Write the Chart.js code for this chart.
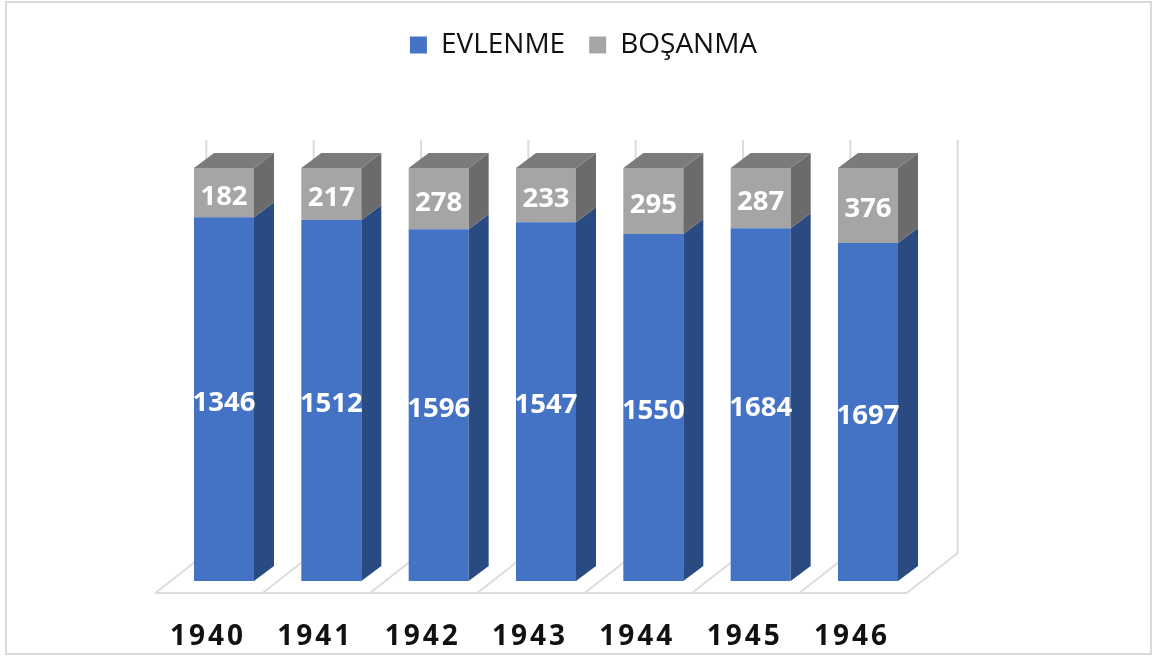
<!DOCTYPE html>
<html>
<head>
<meta charset="utf-8">
<style>
  html, body { margin: 0; padding: 0; background: #fff; overflow: hidden; }
  #wrap { position: relative; width: 1153px; height: 657px; }
  #frame { position: absolute; left: 5px; top: 1px; width: 1143px; height: 650px; border: 2px solid #d9d9d9; pointer-events: none; }
</style>
<script src="https://cdn.jsdelivr.net/npm/chart.js@4"></script>
</head>
<body>
<div id="wrap">
  <canvas id="marriageChart" width="1153" height="657"></canvas>
  <div id="frame"></div>
</div>
<script>
const years = ['1940', '1941', '1942', '1943', '1944', '1945', '1946'];
const evlenme = [1346, 1512, 1596, 1547, 1550, 1684, 1697];
const bosanma = [182, 217, 278, 233, 295, 287, 376];

// 100% stacked, the labels still show the raw counts
const totals = years.map((y, i) => evlenme[i] + bosanma[i]);
const toShare = (arr) => arr.map((v, i) => v / totals[i] * 100);

const BAR_DX = 20, BAR_DY = 15;
const Y_MAX = 124;
const FONT = '"Open Sans", sans-serif';

function poly(ctx, pts, fill) {
    ctx.beginPath();
    pts.forEach((p, i) => i ? ctx.lineTo(p[0], p[1]) : ctx.moveTo(p[0], p[1]));
    ctx.closePath();
    ctx.fillStyle = fill;
    ctx.fill();
}

// floor and back wall lines behind the bars
const wallPlugin = {
    id: 'wall',
    beforeDatasetsDraw(chart) {
        const { ctx, scales: { x, y } } = chart;
        const base = y.getPixelForValue(0);
        const step = x.getPixelForValue(1) - x.getPixelForValue(0);
        const floorFront = base + 12, floorBack = base - 28;
        const topY = y.getPixelForValue(100) - 28;
        ctx.save();
        ctx.strokeStyle = '#dcdcdc';
        ctx.lineWidth = 2;
        ctx.beginPath();
        ctx.moveTo(x.left - 15, floorFront);
        ctx.lineTo(x.right - 15, floorFront);
        for (let i = 0; i <= years.length; i++) {
            const edge = x.left + step * i;
            ctx.moveTo(edge - 15, floorFront);
            ctx.lineTo(edge + 36, floorBack);
            ctx.lineTo(edge + 36, topY);
        }
        ctx.stroke();
        ctx.restore();
    }
};

// side and top faces of the bars, plus the value labels
const boxPlugin = {
    id: 'box',
    afterDatasetsDraw(chart) {
        const { ctx } = chart;
        const sides = ['#2a4a82', '#6b6b6b'];
        const rawValues = [evlenme, bosanma];
        ctx.save();
        chart.data.datasets.forEach((ds, d) => {
            chart.getDatasetMeta(d).data.forEach((bar, i) => {
                const p = bar.getProps(['x', 'y', 'base', 'width'], true);
                const l = p.x - p.width / 2, r = p.x + p.width / 2;
                poly(ctx, [[r, p.y], [r + BAR_DX, p.y - BAR_DY], [r + BAR_DX, p.base - BAR_DY], [r, p.base]], sides[d]);
                if (d === 1) {
                    poly(ctx, [[l, p.y], [l + BAR_DX, p.y - BAR_DY], [r + BAR_DX, p.y - BAR_DY], [r, p.y]], '#7b7b7b');
                }
                ctx.fillStyle = '#fff';
                ctx.font = 'bold 27.5px ' + FONT;
                ctx.textAlign = 'center';
                ctx.textBaseline = 'middle';
                ctx.fillText(String(rawValues[d][i]), p.x, (p.y + p.base) / 2 + 4);
            });
        });
        ctx.restore();
        // only the year labels are drawn after this point (ticks.z = 1)
        ctx.letterSpacing = '3px';
    },
    afterDraw(chart) {
        chart.ctx.letterSpacing = '0px';
    }
};

new Chart(document.getElementById('marriageChart'), {
    type: 'bar',
    data: {
        labels: years,
        datasets: [
            { label: 'EVLENME', data: toShare(evlenme), backgroundColor: '#4472c4' },
            { label: 'BOŞANMA', data: toShare(bosanma), backgroundColor: '#a5a5a5' }
        ]
    },
    options: {
        responsive: false,
        animation: false,
        layout: { padding: { left: 14, right: 0, top: 7, bottom: 0 } },
        datasets: { bar: { categoryPercentage: 1, barPercentage: 0.559, borderWidth: 0 } },
        plugins: {
            tooltip: { enabled: false },
            legend: {
                position: 'top',
                labels: {
                    font: { family: FONT, size: 28 },
                    color: '#111',
                    boxWidth: 17,
                    boxHeight: 17,
                    padding: 24
                }
            }
        },
        scales: {
            x: {
                stacked: true,
                grid: { display: false, drawTicks: false },
                border: { display: false },
                ticks: {
                    z: 1,
                    maxRotation: 0,
                    padding: 39,
                    labelOffset: -16,
                    color: '#111',
                    font: { family: FONT, size: 28, weight: 'bold' }
                },
                afterFit: (s) => { s.height = 76; }
            },
            y: {
                stacked: true,
                min: 0,
                max: Y_MAX,
                grid: { display: false },
                border: { display: false },
                ticks: { display: false },
                afterFit: (s) => { s.width = 156.33; }
            },
            yRight: {
                position: 'right',
                min: 0,
                max: Y_MAX,
                grid: { display: false },
                border: { display: false },
                ticks: { display: false },
                afterFit: (s) => { s.width = 231.33; }
            }
        }
    },
    plugins: [wallPlugin, boxPlugin]
});
</script>
</body>
</html>
